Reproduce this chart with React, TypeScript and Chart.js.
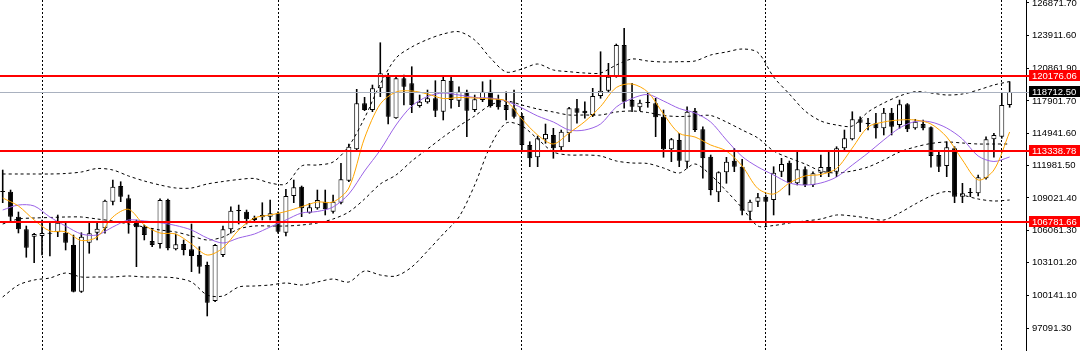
import React, { useEffect, useRef } from 'react';
import { Chart, registerables } from 'chart.js';

Chart.register(...registerables);

// ---- OHLC candles (one per bar index) ----
const opens = [
  109569, 109597, 107309, 106155, 105478, 105542, 105844, 105881, 105844, 104718,
  100444, 104929, 105844, 106247, 108681, 110119, 108993, 106851, 106393, 105084,
  104810, 108837, 104325, 104810, 104325, 103803, 102888, 99592, 103803, 106155,
  107830, 107766, 107006, 107254, 107309, 107620, 105844, 109203, 110055, 107675,
  108077, 108681, 107766, 108590, 110604, 113478, 117688, 117075, 119061, 120123,
  116315, 119976, 119519, 117441, 117780, 118146, 116919, 119757, 117926, 118750,
  117075, 117990, 118750, 118082, 117532, 117230, 116526, 113871, 112746, 114393,
  114786, 113661, 114942, 117230, 117011, 116617, 118356, 118841, 120123, 123024,
  117990, 117322, 117807, 117688, 116462, 113478, 114329, 112343, 117011, 115308,
  112800, 109542, 111372, 112434, 111885, 107766, 108681, 109139, 108837, 111427,
  112251, 110366, 111647, 110210, 111336, 111857, 111427, 113569, 114393, 116224,
  115912, 115857, 115400, 116828, 115702, 117596, 115400, 115793, 115491, 112956,
  111949, 113569, 109139, 109478, 109450, 110823, 114393, 114631, 117532,
];
const highs = [
  111583, 109752, 107739, 106457, 105789, 107006, 106851, 107464, 106851, 105633,
  105844, 106759, 106704, 108837, 110668, 110512, 109295, 107006, 106549, 106247,
  108956, 108928, 105725, 105176, 106640, 104563, 103162, 104782, 106457, 108224,
  108379, 107922, 107373, 108590, 108837, 107766, 109817, 110668, 110119, 108535,
  109752, 109752, 109295, 112196, 113963, 118970, 118237, 119363, 123235, 120434,
  120068, 120278, 121038, 118448, 118905, 119757, 120123, 120123, 119208, 118905,
  118448, 119665, 119821, 118448, 118750, 118905, 116773, 114173, 114695, 115793,
  115400, 115244, 117322, 118054, 117834, 119061, 122411, 121349, 123116, 124553,
  119519, 117990, 118658, 118146, 117075, 114484, 114942, 117377, 117230, 115546,
  112956, 111427, 112746, 113569, 112563, 108837, 109450, 109295, 111885, 112654,
  112407, 113258, 111885, 111427, 112956, 113258, 113716, 115244, 116919, 116462,
  116315, 116773, 117230, 117230, 117990, 117670, 116224, 116159, 115546, 113258,
  114173, 113716, 110366, 109908, 111125, 114631, 114942, 118603, 119665,
];
const lows = [
  108590, 106851, 105817, 103593, 103098, 103803, 103711, 105478, 104260, 100416,
  100370, 103958, 105176, 105789, 108379, 108681, 105789, 102732, 105176, 104563,
  104416, 104260, 104260, 103803, 102274, 102128, 98220, 99528, 103648, 105789,
  106640, 106640, 106823, 107006, 107006, 105789, 105542, 108590, 107309, 107620,
  107986, 107464, 107620, 108471, 110512, 113414, 117011, 116919, 118292, 115793,
  116296, 117532, 116828, 117322, 117688, 116462, 116159, 117230, 117377, 114631,
  116919, 117834, 117322, 117139, 116159, 116315, 113258, 111885, 111885, 114027,
  112654, 113258, 114173, 115857, 116315, 116462, 118146, 118750, 120068, 117230,
  116919, 117011, 117322, 114631, 112746, 112343, 111885, 111739, 115089, 110823,
  109295, 108681, 110366, 111427, 107464, 107006, 108224, 106393, 107464, 110970,
  109295, 110210, 110055, 110055, 110970, 110970, 110970, 113350, 114329, 115089,
  115244, 114484, 114786, 114786, 115400, 115089, 115308, 115244, 111830, 111427,
  110970, 108590, 108590, 109139, 109203, 110732, 112746, 114484, 117322,
];
const closes = [
  109661, 107309, 106155, 104471, 105725, 105817, 105752, 106759, 104929, 100444,
  105478, 105789, 106210, 108773, 110055, 109139, 106851, 106338, 105633, 104718,
  108837, 104416, 104782, 104260, 103711, 102732, 99437, 104718, 106155, 107858,
  107876, 107071, 107189, 107464, 107620, 105936, 109203, 110000, 108077, 108169,
  108837, 107986, 108681, 110732, 113716, 117688, 117075, 119061, 120434, 116462,
  119976, 119208, 117532, 117834, 118146, 117011, 119821, 117990, 118750, 117011,
  118054, 118750, 117441, 117322, 117075, 116462, 113871, 112654, 114484, 114878,
  113569, 115089, 117230, 116828, 116773, 118356, 118841, 120123, 123024, 117834,
  117377, 117743, 117715, 116407, 113478, 114393, 112434, 116919, 115244, 112654,
  109752, 111372, 112343, 111885, 107858, 108681, 109084, 108681, 111336, 112132,
  110366, 111647, 110210, 111281, 111857, 111336, 113569, 114484, 116224, 115912,
  115793, 115400, 116828, 115546, 117596, 115308, 116004, 115400, 112865, 111885,
  113661, 109139, 109450, 109523, 110915, 114393, 114786, 117532, 118712.5,
];

// ---- Indicator readings, one value every `indicatorStep` bars ----
const indicatorStep = 2;
const bbUpper = [
  111217, 111217, 111217, 111217, 111263, 111400, 111720, 111583, 111034, 110576,
  110210, 109936, 109936, 110302, 110530, 110713, 110805, 110393, 110302, 111949,
  112040, 112315, 113780, 116343, 119455, 121834, 122841, 123528, 124031, 124242,
  123482, 121834, 120553, 120827, 121285, 120736, 120580, 120461, 120461, 121194,
  121743, 121560, 121468, 121496, 121560, 122109, 122383, 122658, 122338, 120096,
  118539, 116983, 116068, 115702, 115610, 116892, 117715, 118356, 118750, 118631,
  118448, 118539, 118905, 119363, 119683,
];
const bbMiddle = [
  106640, 107098, 107189, 107235, 107281, 107281, 107098, 106915, 106640, 106366,
  106091, 105908, 105542, 105176, 105450, 106183, 106457, 106457, 106457, 106549,
  106732, 107098, 107739, 108928, 110302, 111125, 112407, 113505, 114603, 115610,
  116526, 117532, 117899, 117532, 117166, 116892, 116617, 116617, 116617, 116892,
  116983, 116846, 116571, 116480, 116526, 116571, 115976, 115244, 114512, 113322,
  112681, 112132, 111491, 111308, 111491, 111857, 112498, 113231, 113688, 114009,
  114146, 114054, 113963, 113963, 113963,
];
const bbLower = [
  99959, 101057, 101515, 101698, 102155, 101790, 101790, 101790, 101881, 101790,
  101790, 101698, 101331, 100141, 100050, 100874, 100965, 101057, 101240, 101057,
  101331, 101606, 101331, 102338, 101972, 101881, 102704, 104169, 105725, 107281,
  110210, 113780, 115885, 115610, 114420, 113231, 112956, 112956, 112864, 112407,
  112224, 112178, 111766, 111308, 112132, 111125, 109661, 108105, 106457, 106503,
  106732, 106915, 107098, 107464, 107373, 107189, 107006, 107647, 108471, 109203,
  109615, 109295, 108928, 108745, 108837,
];
const maFast = [
  109020, 108288, 107006, 105999, 105936, 105130, 105450, 107281, 107986, 106549,
  105817, 105725, 104810, 103803, 104444, 106091, 107189, 107464, 107784, 108224,
  108654, 108654, 109936, 114512, 117624, 118722, 118813, 118539, 118127, 118219,
  118173, 118082, 117899, 116251, 114786, 113963, 114969, 116022, 117395, 119134,
  119455, 118722, 116709, 114942, 114603, 113871, 113322, 111949, 109890, 109386,
  110393, 111034, 111171, 111720, 113597, 115519, 115976, 116159, 116159, 115793,
  114603, 112498, 110668, 111583, 115061,
];
const maSlow = [
  107922, 108379, 108288, 107281, 106457, 105725, 105633, 106366, 107006, 106915,
  106759, 106503, 106091, 105359, 104901, 105359, 105725, 106366, 107006, 107647,
  107784, 108196, 109386, 111491, 113414, 115702, 117441, 118310, 118631, 118448,
  118219, 118173, 117899, 117258, 116526, 115976, 115244, 115244, 115793, 117349,
  118127, 118493, 117899, 117212, 116800, 115976, 114329, 112818, 111858, 111125,
  110393, 110210, 110393, 110942, 112040, 113139, 114329, 115427, 116022, 115976,
  115427, 114420, 112864, 112361, 112773,
];

// ---- Annotations ----
const separatorBars = [5, 35, 66, 97, 127];
const levelLines = [120176.06, 113338.78, 106781.66];
const lastPrice = 118712.5;
const axisTicks = [
  126871.7, 123911.6, 120861.9, 117901.7, 114941.6, 111981.5,
  109021.4, 106061.3, 103101.2, 100141.1, 97091.3,
];

const FONT_FAMILY = '"Liberation Sans", Arial, sans-serif';
const FONT_SIZE = 9.5;

const overlayPlugin = {
  id: 'overlay',
  beforeDatasetsDraw(chart: any) {
    const { ctx, chartArea: a, scales } = chart;
    const x = scales.x;
    ctx.save();
    ctx.strokeStyle = '#000';
    ctx.lineWidth = 1;
    ctx.setLineDash([2, 2]);
    for (const b of separatorBars) {
      const px = Math.floor(x.getPixelForValue(b)) + 0.5;
      ctx.beginPath();
      ctx.moveTo(px, a.top);
      ctx.lineTo(px, a.bottom);
      ctx.stroke();
    }
    ctx.restore();
  },
  afterDatasetsDraw(chart: any) {
    const { ctx, chartArea: a, scales } = chart;
    const y = scales.y;
    ctx.save();
    const gy = Math.round(y.getPixelForValue(lastPrice));
    ctx.fillStyle = '#a9b1bf';
    ctx.fillRect(a.left, gy, a.right + 3 - a.left, 1);
    ctx.fillStyle = '#ff0000';
    for (const v of levelLines) {
      const ly = Math.round(y.getPixelForValue(v));
      ctx.fillRect(a.left, ly - 1, a.right + 3 - a.left, 2);
    }
    ctx.restore();
  },
  afterDraw(chart: any) {
    const { ctx, chartArea: a, scales, width } = chart;
    const y = scales.y;
    ctx.save();
    ctx.font = `${FONT_SIZE}px ${FONT_FAMILY}`;
    ctx.textBaseline = 'middle';
    ctx.textAlign = 'left';
    const box = (v: number, bg: string) => {
      const cy = Math.round(y.getPixelForValue(v));
      ctx.fillStyle = bg;
      ctx.fillRect(a.right + 3, cy - 6, width - a.right - 3, 11);
      ctx.fillStyle = '#fff';
      ctx.fillText(v.toFixed(2), a.right + 6, cy);
    };
    for (const v of levelLines) box(v, '#ff0000');
    box(lastPrice, '#000');
    ctx.restore();
  },
};

export default function App() {
  const ref = useRef<HTMLCanvasElement>(null);
  useEffect(() => {
    document.body.style.margin = '0';
    const idx = opens.map((_, i) => i);
    const wickData = idx.map((i) => ({ x: i, y: [lows[i], highs[i]] }));
    const bodyData = idx.map((i) => ({ x: i, y: [opens[i], closes[i]] }));
    const bodyColors = idx.map((i) => (closes[i] >= opens[i] ? '#ffffff' : '#000000'));
    const pts = (arr: number[]) => arr.map((v, k) => ({ x: k * indicatorStep, y: v }));
    const band = (arr: number[]) => ({
      type: 'line',
      data: pts(arr),
      borderColor: '#000',
      borderWidth: 1,
      borderDash: [3, 3],
      pointRadius: 0,
      tension: 0.3,
      fill: false,
      order: 2,
    });
    const chart = new Chart(ref.current as HTMLCanvasElement, {
      type: 'bar',
      data: {
        datasets: [
          {
            type: 'bar',
            data: wickData,
            stack: 'candle',
            barThickness: 1,
            backgroundColor: '#000',
            borderWidth: 0,
            inflateAmount: 0.3,
            order: 6,
          },
          {
            type: 'bar',
            data: bodyData,
            stack: 'candle',
            barThickness: 5,
            backgroundColor: bodyColors,
            borderColor: '#000',
            borderWidth: 1,
            borderSkipped: false,
            inflateAmount: 0,
            minBarLength: 1,
            order: 5,
          },
          band(bbUpper),
          band(bbMiddle),
          band(bbLower),
          {
            type: 'line',
            data: pts(maSlow),
            borderColor: '#9a62e6',
            borderWidth: 1,
            pointRadius: 0,
            tension: 0.3,
            fill: false,
            order: 1,
          },
          {
            type: 'line',
            data: pts(maFast),
            borderColor: '#ffa500',
            borderWidth: 1,
            pointRadius: 0,
            tension: 0.3,
            fill: false,
            order: 0,
          },
        ] as any,
      },
      options: {
        animation: false,
        responsive: true,
        maintainAspectRatio: false,
        events: [],
        layout: { padding: 0 },
        plugins: { legend: { display: false }, tooltip: { enabled: false } },
        scales: {
          x: {
            type: 'linear',
            min: -0.343,
            max: 130.08,
            offset: false,
            display: false,
          },
          y: {
            type: 'linear',
            position: 'right',
            min: 95016,
            max: 127143,
            stacked: false,
            beginAtZero: false,
            afterBuildTicks: (s: any) => {
              s.ticks = axisTicks.map((v) => ({ value: v }));
            },
            afterFit: (s: any) => {
              s.width = 54;
              s.paddingTop = 0;
              s.paddingBottom = 0;
            },
            grid: { drawOnChartArea: false, drawTicks: true, tickLength: 3, color: '#000' },
            border: { display: true, color: '#000', width: 1 },
            ticks: {
              autoSkip: false,
              color: '#000',
              padding: 3,
              font: { family: FONT_FAMILY, size: FONT_SIZE },
              callback: (v: any) => Number(v).toFixed(2),
            },
          },
        },
      } as any,
      plugins: [overlayPlugin],
    });
    return () => chart.destroy();
  }, []);
  return (
    <div style={{ position: 'relative', width: 1080, height: 351, background: '#fff' }}>
      <canvas ref={ref} />
    </div>
  );
}
